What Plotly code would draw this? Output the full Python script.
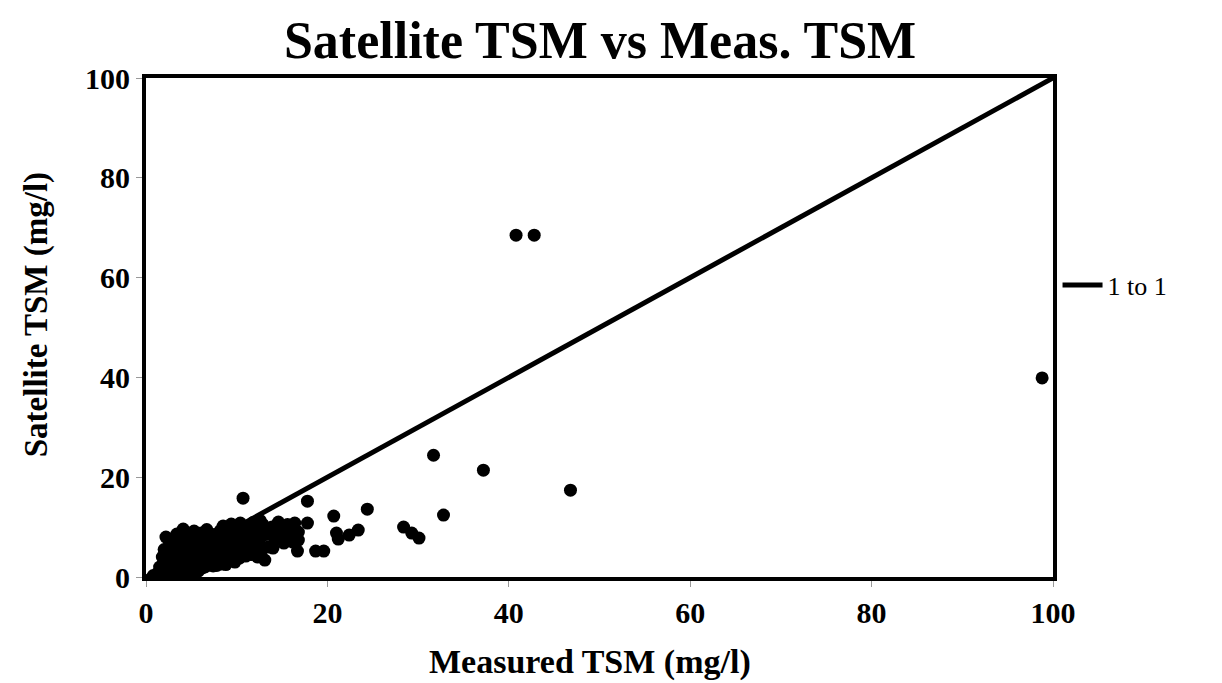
import plotly.graph_objects as go

# Measured TSM (mg/l) and Satellite TSM (mg/l)
measured = [
    0.8, 1.3, 1.8, 2.3, 2.6, 3.0, 3.2, 3.5, 3.8, 4.0, 4.3, 4.6, 5.0, 5.3, 5.8, 6.2, 6.5, 7.0, 7.4, 7.8,
    8.3, 8.8, 9.2, 9.8, 10.3, 11.0, 11.6, 12.3, 13.1,
    2.2, 2.6, 2.8, 3.0, 3.2, 3.4, 3.6, 3.9, 4.1, 4.2, 4.5, 4.7, 4.9, 5.1, 5.3, 5.4, 5.7, 5.9, 6.1, 6.3,
    6.5, 6.7, 6.9, 7.1, 7.3, 7.5, 7.7, 8.0, 8.2, 8.4, 8.7, 9.0, 9.2, 9.5, 9.8, 10.0, 10.3, 10.6, 10.9,
    11.2, 11.5, 11.8, 12.2, 12.5, 12.9, 13.2, 13.5, 13.9, 14.2, 14.6, 14.9, 15.2, 15.6, 16.0, 16.4, 16.8,
    2.0, 1.5, 2.5, 3.5, 5.5, 6.0, 7.2, 8.6, 4.4, 9.6, 11.0, 12.0,
    3.3, 3.7, 4.3, 4.8, 5.0, 5.5, 6.0, 6.3, 6.8, 7.2, 7.6, 8.0, 8.5, 8.9, 9.3, 9.7, 10.2, 10.5,
    11.0, 11.4, 12.0, 12.7, 13.6, 14.4, 15.0, 15.8, 2.0, 1.8, 2.4, 6.0, 7.5, 9.0, 10.0, 11.5, 12.8, 14.0,
    8.5, 9.4, 10.4, 11.8, 12.6, 3.0, 3.6, 4.2, 4.8,
    10.7, 17.8, 17.8, 20.7, 21.0, 21.2, 18.7, 19.6, 16.2, 16.7, 24.4, 23.4, 22.4, 28.4, 29.3, 30.1,
    31.7, 32.8, 37.2, 46.8, 40.8, 42.8, 98.8, 16.8,
]
satellite = [
    0.3, 0.8, 1.2, 0.5, 1.8, 0.8, 2.5, 1.5, 0.6, 3.0, 2.0, 1.0, 1.2, 2.2, 1.2, 1.8, 2.0, 2.4, 2.2, 2.3,
    2.6, 2.5, 3.2, 3.0, 3.8, 4.2, 4.5, 4.0, 3.4,
    8.0, 6.5, 5.0, 7.5, 4.0, 8.6, 6.0, 5.0, 9.6, 7.2, 4.5, 8.5, 6.2, 3.5, 9.2, 7.5, 5.2, 4.0, 8.8, 6.5,
    3.2, 9.5, 7.2, 5.0, 3.8, 8.5, 6.2, 4.5, 9.3, 7.0, 5.5, 8.5, 6.2, 4.5, 9.5, 7.5, 5.8, 8.8, 6.5,
    10.2, 8.0, 5.8, 9.5, 7.2, 10.5, 8.5, 6.0, 10.0, 7.5, 11.0, 9.0, 6.8, 10.5, 8.2, 10.8, 9.0,
    3.0, 2.0, 3.5, 3.0, 1.0, 4.8, 2.8, 3.5, 6.8, 6.8, 6.0, 7.0,
    5.5, 7.8, 5.8, 3.0, 8.0, 6.0, 7.5, 5.0, 8.0, 6.5, 4.2, 7.8, 6.0, 9.6, 7.8, 5.5, 9.0, 6.8,
    8.8, 6.5, 8.2, 8.8, 9.0, 9.5, 10.0, 9.5, 5.5, 4.0, 2.5, 2.5, 2.8, 3.8, 4.8, 5.2, 5.5, 5.8,
    10.2, 10.6, 10.8, 10.9, 11.3, 1.6, 0.9, 1.4, 2.0,
    15.8, 15.2, 10.8, 12.2, 8.8, 7.6, 5.2, 5.2, 7.0, 5.2, 13.6, 9.4, 8.4, 10.0, 8.8, 7.8,
    24.4, 12.4, 21.4, 17.4, 68.5, 68.5, 39.9, 7.4,
]
line_x = [0, 100]
line_y = [0, 100]
tick_vals = [0, 20, 40, 60, 80, 100]

SERIF = "Liberation Serif"

fig = go.Figure()
fig.add_trace(go.Scatter(
    x=measured, y=satellite, mode="markers",
    marker=dict(color="black", size=13),
    showlegend=False,
))
fig.add_trace(go.Scatter(
    x=line_x, y=line_y, mode="lines", name="1 to 1",
    line=dict(color="black", width=5),
))

axis_common = dict(
    range=[0, 100], tickvals=tick_vals, showgrid=False, zeroline=False,
    showline=True, linecolor="black", linewidth=4, mirror=True,
    ticks="outside", ticklen=6, tickcolor="#999", tickwidth=1,
    tickfont=dict(family=SERIF, size=30, color="black", weight="bold"),
)

fig.update_layout(
    width=1222, height=683,
    margin=dict(l=138, r=177, t=70, b=114),
    paper_bgcolor="white", plot_bgcolor="white",
    xaxis=axis_common,
    yaxis=axis_common,
    title=dict(text="Satellite TSM vs Meas. TSM", x=0.4845, xanchor="center",
               y=1 - 32 / 683, yanchor="middle", yref="container",
               font=dict(family=SERIF, size=52, color="black", weight="bold")),
    legend=dict(x=1.005, y=0.585, xanchor="left", yanchor="middle",
                font=dict(family=SERIF, size=26, color="black"),
                bgcolor="rgba(0,0,0,0)", itemwidth=40),
    annotations=[
        dict(text="Satellite TSM (mg/l)", x=-0.121, y=0.525, xref="paper", yref="paper",
             textangle=-90, showarrow=False, xanchor="center", yanchor="middle",
             font=dict(family=SERIF, size=33, color="black", weight="bold")),
        dict(text="Measured TSM (mg/l)", x=0.49, y=-0.17, xref="paper", yref="paper",
             showarrow=False, xanchor="center", yanchor="middle",
             font=dict(family=SERIF, size=34, color="black", weight="bold")),
    ],
)

fig.write_html("out.html")
